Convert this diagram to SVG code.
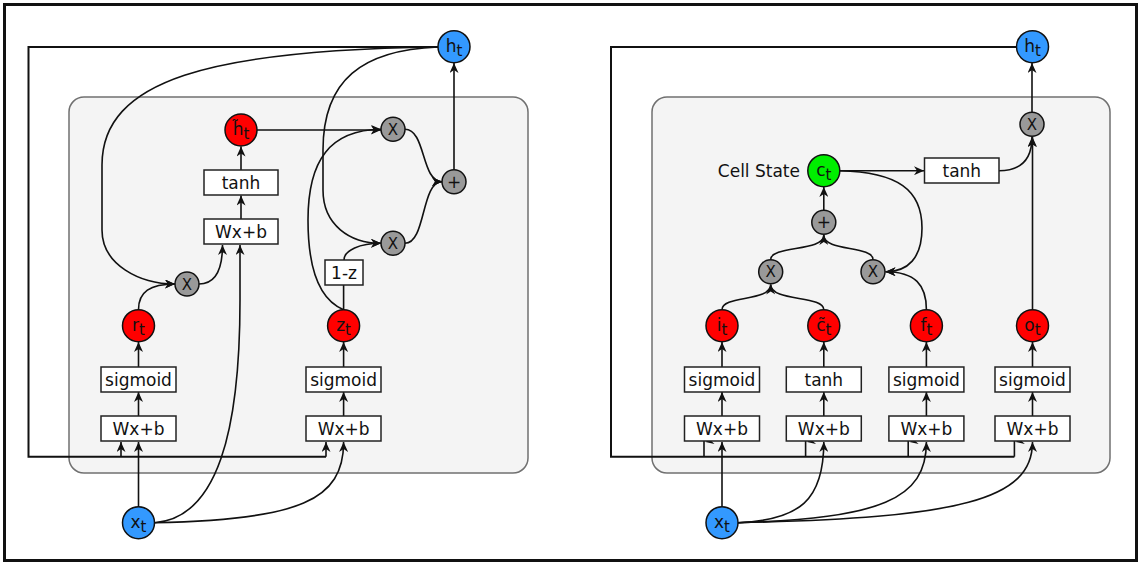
<svg xmlns="http://www.w3.org/2000/svg" width="1141" height="564" viewBox="0 0 1141 564">
<defs>
<style>
text{font-family:"DejaVu Sans","Liberation Sans",sans-serif;font-size:17px;fill:#111}
.box{fill:#fff;stroke:#222;stroke-width:1.5}
.cont{fill:#f4f4f4;stroke:#707070;stroke-width:1.5}
.blue{fill:#3399ff;stroke:#111;stroke-width:1.5}
.red{fill:#ff0000;stroke:#111;stroke-width:1.5}
.green{fill:#00ee00;stroke:#111;stroke-width:1.5}
.gray{fill:#999;stroke:#111;stroke-width:1.5}
.c{fill:none;stroke:#111;stroke-width:1.6}
.loop{fill:none;stroke:#111;stroke-width:2}
.op{font-size:15px}
.sub{font-size:15px}
</style>
<marker id="a" markerWidth="11" markerHeight="9" refX="10" refY="4.5" orient="auto" markerUnits="userSpaceOnUse">
<path d="M0,0 L10,4.5 L0,9 L3,4.5 z" fill="#111"/>
</marker>
</defs>
<rect x="4.5" y="4.5" width="1132" height="556" fill="#fff" stroke="#111" stroke-width="3"/>
<g id="containers">
<rect class="cont" x="69" y="97" width="459" height="376" rx="15"/>
<rect class="cont" x="652" y="97" width="458" height="376" rx="15"/>
</g>
<g id="connectors">
<path class="loop" d="M438,47 H28.5 V456.7 H326"/>
<path class="c" d="M121,456.7 V442" marker-end="url(#a)"/>
<path class="c" d="M326,456.7 V442" marker-end="url(#a)"/>
<path class="c" d="M138.5,506.7 V442" marker-end="url(#a)"/>
<path class="c" d="M154.5,522.7 C300,520 343.6,500 343.6,442" marker-end="url(#a)"/>
<path class="c" d="M154.5,522.7 C218,518 240,430 240,300 L240,245" marker-end="url(#a)"/>
<path class="c" d="M138.5,416 V392" marker-end="url(#a)"/>
<path class="c" d="M138.5,367 V342" marker-end="url(#a)"/>
<path class="c" d="M343.6,416 V392" marker-end="url(#a)"/>
<path class="c" d="M343.6,367 V342" marker-end="url(#a)"/>
<path class="c" d="M138.5,309.7 C138.5,292 150,284 175,284" marker-end="url(#a)"/>
<path class="c" d="M199,284 C215,284 222.5,270 222.5,245" marker-end="url(#a)"/>
<path class="c" d="M438,47 C210,50 102,80 102,165 L102,230 C102,265 140,284 175,284" marker-end="url(#a)"/>
<path class="c" d="M241,219 V195.5" marker-end="url(#a)"/>
<path class="c" d="M241,170 V146.5" marker-end="url(#a)"/>
<path class="c" d="M257,130 H381" marker-end="url(#a)"/>
<path class="c" d="M343.6,309.7 C320,300 308,270 308,220 C308,160 330,130 381,129.3" marker-end="url(#a)"/>
<path class="c" d="M343.6,309.7 V285"/>
<path class="c" d="M344,260 C344,250 360,243.3 381,243.3" marker-end="url(#a)"/>
<path class="c" d="M438,47 C362,50 323,80 323,150 L323,190 C323,225 350,243.3 381,243.3" marker-end="url(#a)"/>
<path class="c" d="M405,129.3 C426,129.3 421,181.7 442,181.7" marker-end="url(#a)"/>
<path class="c" d="M405,243.3 C426,243.3 421,181.7 442,181.7" marker-end="url(#a)"/>
<path class="c" d="M454,169.7 V63" marker-end="url(#a)"/>
<path class="loop" d="M1016.5,47 H611 V456.7 H1014.4"/>
<path class="c" d="M704,456.7 V441"/>
<path class="c" d="M805.6,456.7 V441"/>
<path class="c" d="M908.2,456.7 V441"/>
<path class="c" d="M1014.4,456.7 V441"/>
<path d="M705.5,442 L714,436.5 L711.3,441 L714.5,444 z" fill="#111"/>
<path d="M807,442 L815.5,436.5 L812.8,441 L816,444 z" fill="#111"/>
<path d="M909.6,442 L918.1,436.5 L915.4,441 L918.6,444 z" fill="#111"/>
<path d="M1015.8,442 L1024.3,436.5 L1021.6,441 L1024.8,444 z" fill="#111"/>
<path class="c" d="M722,506.7 V442" marker-end="url(#a)"/>
<path class="c" d="M738,522.7 C800,520 823.8,500 823.8,442" marker-end="url(#a)"/>
<path class="c" d="M738,522.7 C880,518 926.4,500 926.4,442" marker-end="url(#a)"/>
<path class="c" d="M738,522.7 C960,518 1032.5,500 1032.5,442" marker-end="url(#a)"/>
<path class="c" d="M722,416 V392" marker-end="url(#a)"/>
<path class="c" d="M722,367 V342" marker-end="url(#a)"/>
<path class="c" d="M823.8,416 V392" marker-end="url(#a)"/>
<path class="c" d="M823.8,367 V342" marker-end="url(#a)"/>
<path class="c" d="M926.4,416 V392" marker-end="url(#a)"/>
<path class="c" d="M926.4,367 V342" marker-end="url(#a)"/>
<path class="c" d="M1032.5,416 V392" marker-end="url(#a)"/>
<path class="c" d="M1032.5,367 V342" marker-end="url(#a)"/>
<path class="c" d="M722,309.7 C722,295 770.7,302 770.7,284.5" marker-end="url(#a)"/>
<path class="c" d="M823.8,309.7 C823.8,295 770.7,302 770.7,284.5"/>
<path class="c" d="M770.7,259.7 C770.7,245 823.8,252 823.8,235" marker-end="url(#a)"/>
<path class="c" d="M873,259.7 C873,245 823.8,252 823.8,235"/>
<path class="c" d="M926.4,309.7 C926.4,285 915,271.7 885.5,271.7" marker-end="url(#a)"/>
<path class="c" d="M839.8,170.7 C898,172 922,190 922,228 C922,258 908,271.7 885.5,271.7" marker-end="url(#a)"/>
<path class="c" d="M839.8,170.7 H924" marker-end="url(#a)"/>
<path class="c" d="M999,170.7 C1020,170.7 1032,160 1032,137" marker-end="url(#a)"/>
<path class="c" d="M1032.5,309.7 V137" marker-end="url(#a)"/>
<path class="c" d="M1032,112.3 V63" marker-end="url(#a)"/>
<path class="c" d="M823.8,210.3 V187" marker-end="url(#a)"/>
</g>
<g id="l_ht"><circle class="blue" cx="454" cy="46.7" r="16"/><text x="454" y="51.5" text-anchor="middle">h<tspan class="sub" dy="4">t</tspan></text></g>
<g id="l_htilde"><circle class="red" cx="241" cy="130" r="16"/><text x="241" y="135" text-anchor="middle">h̃<tspan class="sub" dy="4">t</tspan></text></g>
<g id="l_tanh"><rect class="box" x="204" y="170" width="74" height="25"/><text x="241" y="188.5" text-anchor="middle">tanh</text></g>
<g id="l_wxb_h"><rect class="box" x="204" y="219" width="74" height="25"/><text x="241" y="237.5" text-anchor="middle">Wx+b</text></g>
<g id="l_mul1"><circle class="gray" cx="393" cy="129.3" r="12"/><text class="op" x="393" y="134.8" text-anchor="middle">X</text></g>
<g id="l_plus"><circle class="gray" cx="454" cy="181.7" r="12"/><text x="454" y="187.7" text-anchor="middle">+</text></g>
<g id="l_mul2"><circle class="gray" cx="393" cy="243.3" r="12"/><text class="op" x="393" y="248.8" text-anchor="middle">X</text></g>
<g id="l_1mz"><rect class="box" x="325" y="260" width="38" height="25"/><text x="344" y="278.5" text-anchor="middle">1-z</text></g>
<g id="l_mul3"><circle class="gray" cx="187" cy="284" r="12"/><text class="op" x="187" y="289.5" text-anchor="middle">X</text></g>
<g id="l_rt"><circle class="red" cx="138.5" cy="325.7" r="16"/><text x="138.5" y="330.5" text-anchor="middle">r<tspan class="sub" dy="4">t</tspan></text></g>
<g id="l_zt"><circle class="red" cx="343.6" cy="325.7" r="16"/><text x="343.6" y="330.5" text-anchor="middle">z<tspan class="sub" dy="4">t</tspan></text></g>
<g id="l_sig_r"><rect class="box" x="101" y="367" width="75" height="25"/><text x="138.5" y="385.5" text-anchor="middle">sigmoid</text></g>
<g id="l_wxb_r"><rect class="box" x="101" y="416" width="75" height="25"/><text x="138.5" y="434.5" text-anchor="middle">Wx+b</text></g>
<g id="l_sig_z"><rect class="box" x="306" y="367" width="75" height="25"/><text x="343.6" y="385.5" text-anchor="middle">sigmoid</text></g>
<g id="l_wxb_z"><rect class="box" x="306" y="416" width="75" height="25"/><text x="343.6" y="434.5" text-anchor="middle">Wx+b</text></g>
<g id="l_xt"><circle class="blue" cx="138.5" cy="522.7" r="16"/><text x="138.5" y="527.5" text-anchor="middle">x<tspan class="sub" dy="4">t</tspan></text></g>
<g id="r_ht"><circle class="blue" cx="1032.5" cy="46.7" r="16"/><text x="1032.5" y="51.5" text-anchor="middle">h<tspan class="sub" dy="4">t</tspan></text></g>
<g id="r_mul_o"><circle class="gray" cx="1032" cy="124.3" r="12"/><text class="op" x="1032" y="129.8" text-anchor="middle">X</text></g>
<g id="r_ct"><circle class="green" cx="823.8" cy="170.7" r="16"/><text x="823.8" y="175.5" text-anchor="middle">c<tspan class="sub" dy="4">t</tspan></text><text x="800" y="177" text-anchor="end">Cell State</text></g>
<g id="r_tanh_c"><rect class="box" x="924.5" y="158" width="74.5" height="25"/><text x="961.8" y="176.5" text-anchor="middle">tanh</text></g>
<g id="r_plus"><circle class="gray" cx="823.8" cy="222.3" r="12"/><text x="823.8" y="228.3" text-anchor="middle">+</text></g>
<g id="r_mul_i"><circle class="gray" cx="770.7" cy="271.7" r="12"/><text class="op" x="770.7" y="277.2" text-anchor="middle">X</text></g>
<g id="r_mul_f"><circle class="gray" cx="873" cy="271.7" r="12"/><text class="op" x="873" y="277.2" text-anchor="middle">X</text></g>
<g id="r_it"><circle class="red" cx="722" cy="325.7" r="16"/><text x="722" y="330.5" text-anchor="middle">i<tspan class="sub" dy="4">t</tspan></text></g>
<g id="r_ctilde"><circle class="red" cx="823.8" cy="325.7" r="16"/><text x="823.8" y="330.5" text-anchor="middle">c̃<tspan class="sub" dy="4">t</tspan></text></g>
<g id="r_ft"><circle class="red" cx="926.4" cy="325.7" r="16"/><text x="926.4" y="330.5" text-anchor="middle">f<tspan class="sub" dy="4">t</tspan></text></g>
<g id="r_ot"><circle class="red" cx="1032.5" cy="325.7" r="16"/><text x="1032.5" y="330.5" text-anchor="middle">o<tspan class="sub" dy="4">t</tspan></text></g>
<g id="r_sig_i"><rect class="box" x="684.5" y="367" width="75" height="25"/><text x="722" y="385.5" text-anchor="middle">sigmoid</text></g>
<g id="r_tanh_g"><rect class="box" x="786.3" y="367" width="75" height="25"/><text x="823.8" y="385.5" text-anchor="middle">tanh</text></g>
<g id="r_sig_f"><rect class="box" x="888.9" y="367" width="75" height="25"/><text x="926.4" y="385.5" text-anchor="middle">sigmoid</text></g>
<g id="r_sig_o"><rect class="box" x="995" y="367" width="75" height="25"/><text x="1032.5" y="385.5" text-anchor="middle">sigmoid</text></g>
<g id="r_wxb_i"><rect class="box" x="684.5" y="416" width="75" height="25"/><text x="722" y="434.5" text-anchor="middle">Wx+b</text></g>
<g id="r_wxb_g"><rect class="box" x="786.3" y="416" width="75" height="25"/><text x="823.8" y="434.5" text-anchor="middle">Wx+b</text></g>
<g id="r_wxb_f"><rect class="box" x="888.9" y="416" width="75" height="25"/><text x="926.4" y="434.5" text-anchor="middle">Wx+b</text></g>
<g id="r_wxb_o"><rect class="box" x="995" y="416" width="75" height="25"/><text x="1032.5" y="434.5" text-anchor="middle">Wx+b</text></g>
<g id="r_xt"><circle class="blue" cx="722" cy="522.7" r="16"/><text x="722" y="527.5" text-anchor="middle">x<tspan class="sub" dy="4">t</tspan></text></g>
</svg>
